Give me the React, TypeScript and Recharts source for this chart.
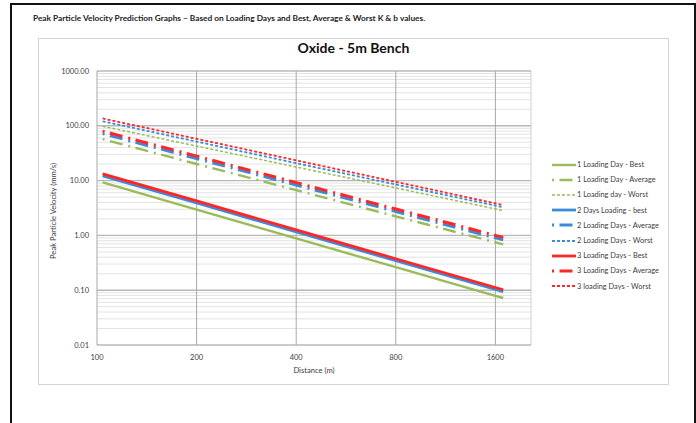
import React from "react";
import { LineChart, Line, XAxis, YAxis, ReferenceLine } from "recharts";

// distance (m) where each line is read
const distance = [104, 200, 400, 800, 1600, 1690];

// PPV (mm/s)
const oneDayBest = [9.25, 2.95, 0.88, 0.263, 0.079, 0.072];
const oneDayAverage = [57, 20.1, 6.7, 2.23, 0.745, 0.685];
const oneDayWorst = [98, 42.7, 17.7, 7.35, 3.04, 2.83];
const twoDaysBest = [12.2, 3.9, 1.16, 0.345, 0.103, 0.094];
const twoDaysAverage = [72, 25.2, 8.3, 2.73, 0.9, 0.83];
const twoDaysWorst = [121, 51.5, 20.8, 8.5, 3.5, 3.25];
const threeDaysBest = [13.3, 4.25, 1.26, 0.375, 0.112, 0.102];
const threeDaysAverage = [80, 28, 9.2, 3.03, 1.0, 0.92];
const threeDaysWorst = [136, 57.9, 23.4, 9.5, 3.84, 3.57];

const xTicks = [100, 200, 400, 800, 1600];
const yTicks = [0.01, 0.1, 1, 10, 100, 1000];
const minorSteps = [2, 3, 4, 5, 6, 7, 8, 9];
const X_MAX = 2050;

const GREEN = "#9bbb59";
const BLUE = "#3c8bd9";
const RED = "#ff2626";

const SOLID = undefined;
const DASH_DOT = "2 5.5 13 6";
const SHORT_DASH = "3 2";

const series = [
  { key: "g1", name: "1 Loading Day - Best", values: oneDayBest, color: GREEN, dash: SOLID, width: 2.4 },
  { key: "g2", name: "1 Loading Day - Average", values: oneDayAverage, color: GREEN, dash: DASH_DOT, width: 2.4 },
  { key: "g3", name: "1 Loading day - Worst", values: oneDayWorst, color: GREEN, dash: SHORT_DASH, width: 1.5 },
  { key: "b1", name: "2 Days Loading - best", values: twoDaysBest, color: BLUE, dash: SOLID, width: 2.8 },
  { key: "b2", name: "2 Loading Days - Average", values: twoDaysAverage, color: BLUE, dash: DASH_DOT, width: 3 },
  { key: "b3", name: "2 Loading Days - Worst", values: twoDaysWorst, color: BLUE, dash: SHORT_DASH, width: 1.8 },
  { key: "r1", name: "3 Loading Days - Best", values: threeDaysBest, color: RED, dash: SOLID, width: 2.8 },
  { key: "r2", name: "3 Loading Days - Average", values: threeDaysAverage, color: RED, dash: DASH_DOT, width: 3 },
  { key: "r3", name: "3 loading Days - Worst", values: threeDaysWorst, color: RED, dash: SHORT_DASH, width: 1.8 },
];

const data = distance.map((d, i) => {
  const row: Record<string, number> = { distance: d };
  series.forEach((s) => (row[s.key] = s.values[i]));
  return row;
});

const minorY = yTicks.slice(0, -1).flatMap((t) => minorSteps.map((m) => t * m));

const FONT = "Lato, 'Open Sans', sans-serif";
const TEXT = "#404040";

function ChartLegend() {
  return (
    <div style={{ position: "absolute", left: 552, top: 157, fontFamily: FONT, fontSize: 7.4, color: TEXT }}>
      {series.map((s) => (
        <div key={s.key} style={{ display: "flex", alignItems: "center", height: 15.2 }}>
          <svg width={24} height={6} style={{ marginRight: 1 }}>
            <line x1={0} y1={3} x2={24} y2={3} stroke={s.color} strokeWidth={s.width} strokeDasharray={s.dash} />
          </svg>
          <span style={{ whiteSpace: "nowrap" }}>{s.name}</span>
        </div>
      ))}
    </div>
  );
}

export default function App() {
  return (
    <div style={{ position: "absolute", left: 0, top: 0, width: 696, height: 423, background: "#fff", overflow: "hidden" }}>
      <div style={{ position: "absolute", left: 10, top: 3, width: 682, height: 440, border: "2px solid #111" }} />
      <div style={{ position: "absolute", left: 33, top: 13, fontFamily: FONT, fontWeight: 700, fontSize: 8.3, color: "#222", whiteSpace: "nowrap" }}>
        Peak Particle Velocity Prediction Graphs – Based on Loading Days and Best, Average &amp; Worst K &amp; b values.
      </div>
      <div style={{ position: "absolute", left: 38, top: 38, width: 631, height: 347, border: "1px solid #d4d4d4", boxSizing: "border-box" }} />
      <div style={{ position: "absolute", left: 38, top: 39, width: 631, textAlign: "center", fontFamily: FONT, fontWeight: 700, fontSize: 14, color: "#111" }}>
        Oxide - 5m Bench
      </div>
      <div
        style={{
          position: "absolute", left: 53, top: 211, transform: "translate(-50%, -50%) rotate(-90deg)",
          fontFamily: FONT, fontSize: 7.6, color: TEXT, whiteSpace: "nowrap",
        }}
      >
        Peak Particle Velocity (mm/s)
      </div>
      <div style={{ position: "absolute", left: 38, top: 38 }}>
        <LineChart width={631} height={347} data={data} margin={{ top: 33, right: 138, bottom: 12, left: 0 }}>
          <XAxis
            dataKey="distance" type="number" scale="log" domain={[100, X_MAX]} ticks={xTicks}
            allowDataOverflow axisLine={false} tickLine={false} tickSize={8} height={28}
            tick={{ fontSize: 7.5, fill: TEXT, fontFamily: FONT }}
            label={{ value: "Distance (m)", position: "insideBottom", offset: 0, style: { fontSize: 7.6, fill: TEXT, fontFamily: FONT } }}
          />
          <YAxis
            type="number" scale="log" domain={[0.01, 1000]} ticks={yTicks} allowDataOverflow
            axisLine={false} tickLine={false} width={59}
            tickFormatter={(v: number) => v.toFixed(2)}
            tick={{ fontSize: 7.5, fill: TEXT, fontFamily: FONT }}
          />
          {minorY.map((t) => (
            <ReferenceLine key={"m" + t} y={t} stroke="#dcdcdc" strokeWidth={0.8} />
          ))}
          <ReferenceLine x={X_MAX} stroke="#d0d0d0" strokeWidth={1} />
          {yTicks.map((t) => (
            <ReferenceLine key={"y" + t} y={t} stroke="#b8b8b8" strokeWidth={1.4} />
          ))}
          {xTicks.map((t) => (
            <ReferenceLine key={"x" + t} x={t} stroke="#a8a8a8" strokeWidth={1} />
          ))}
          {series.map((s) => (
            <Line
              key={s.key} type="linear" dataKey={s.key} name={s.name} stroke={s.color}
              strokeWidth={s.width} strokeDasharray={s.dash} dot={false} activeDot={false}
              isAnimationActive={false}
            />
          ))}
        </LineChart>
      </div>
      <ChartLegend />
    </div>
  );
}
